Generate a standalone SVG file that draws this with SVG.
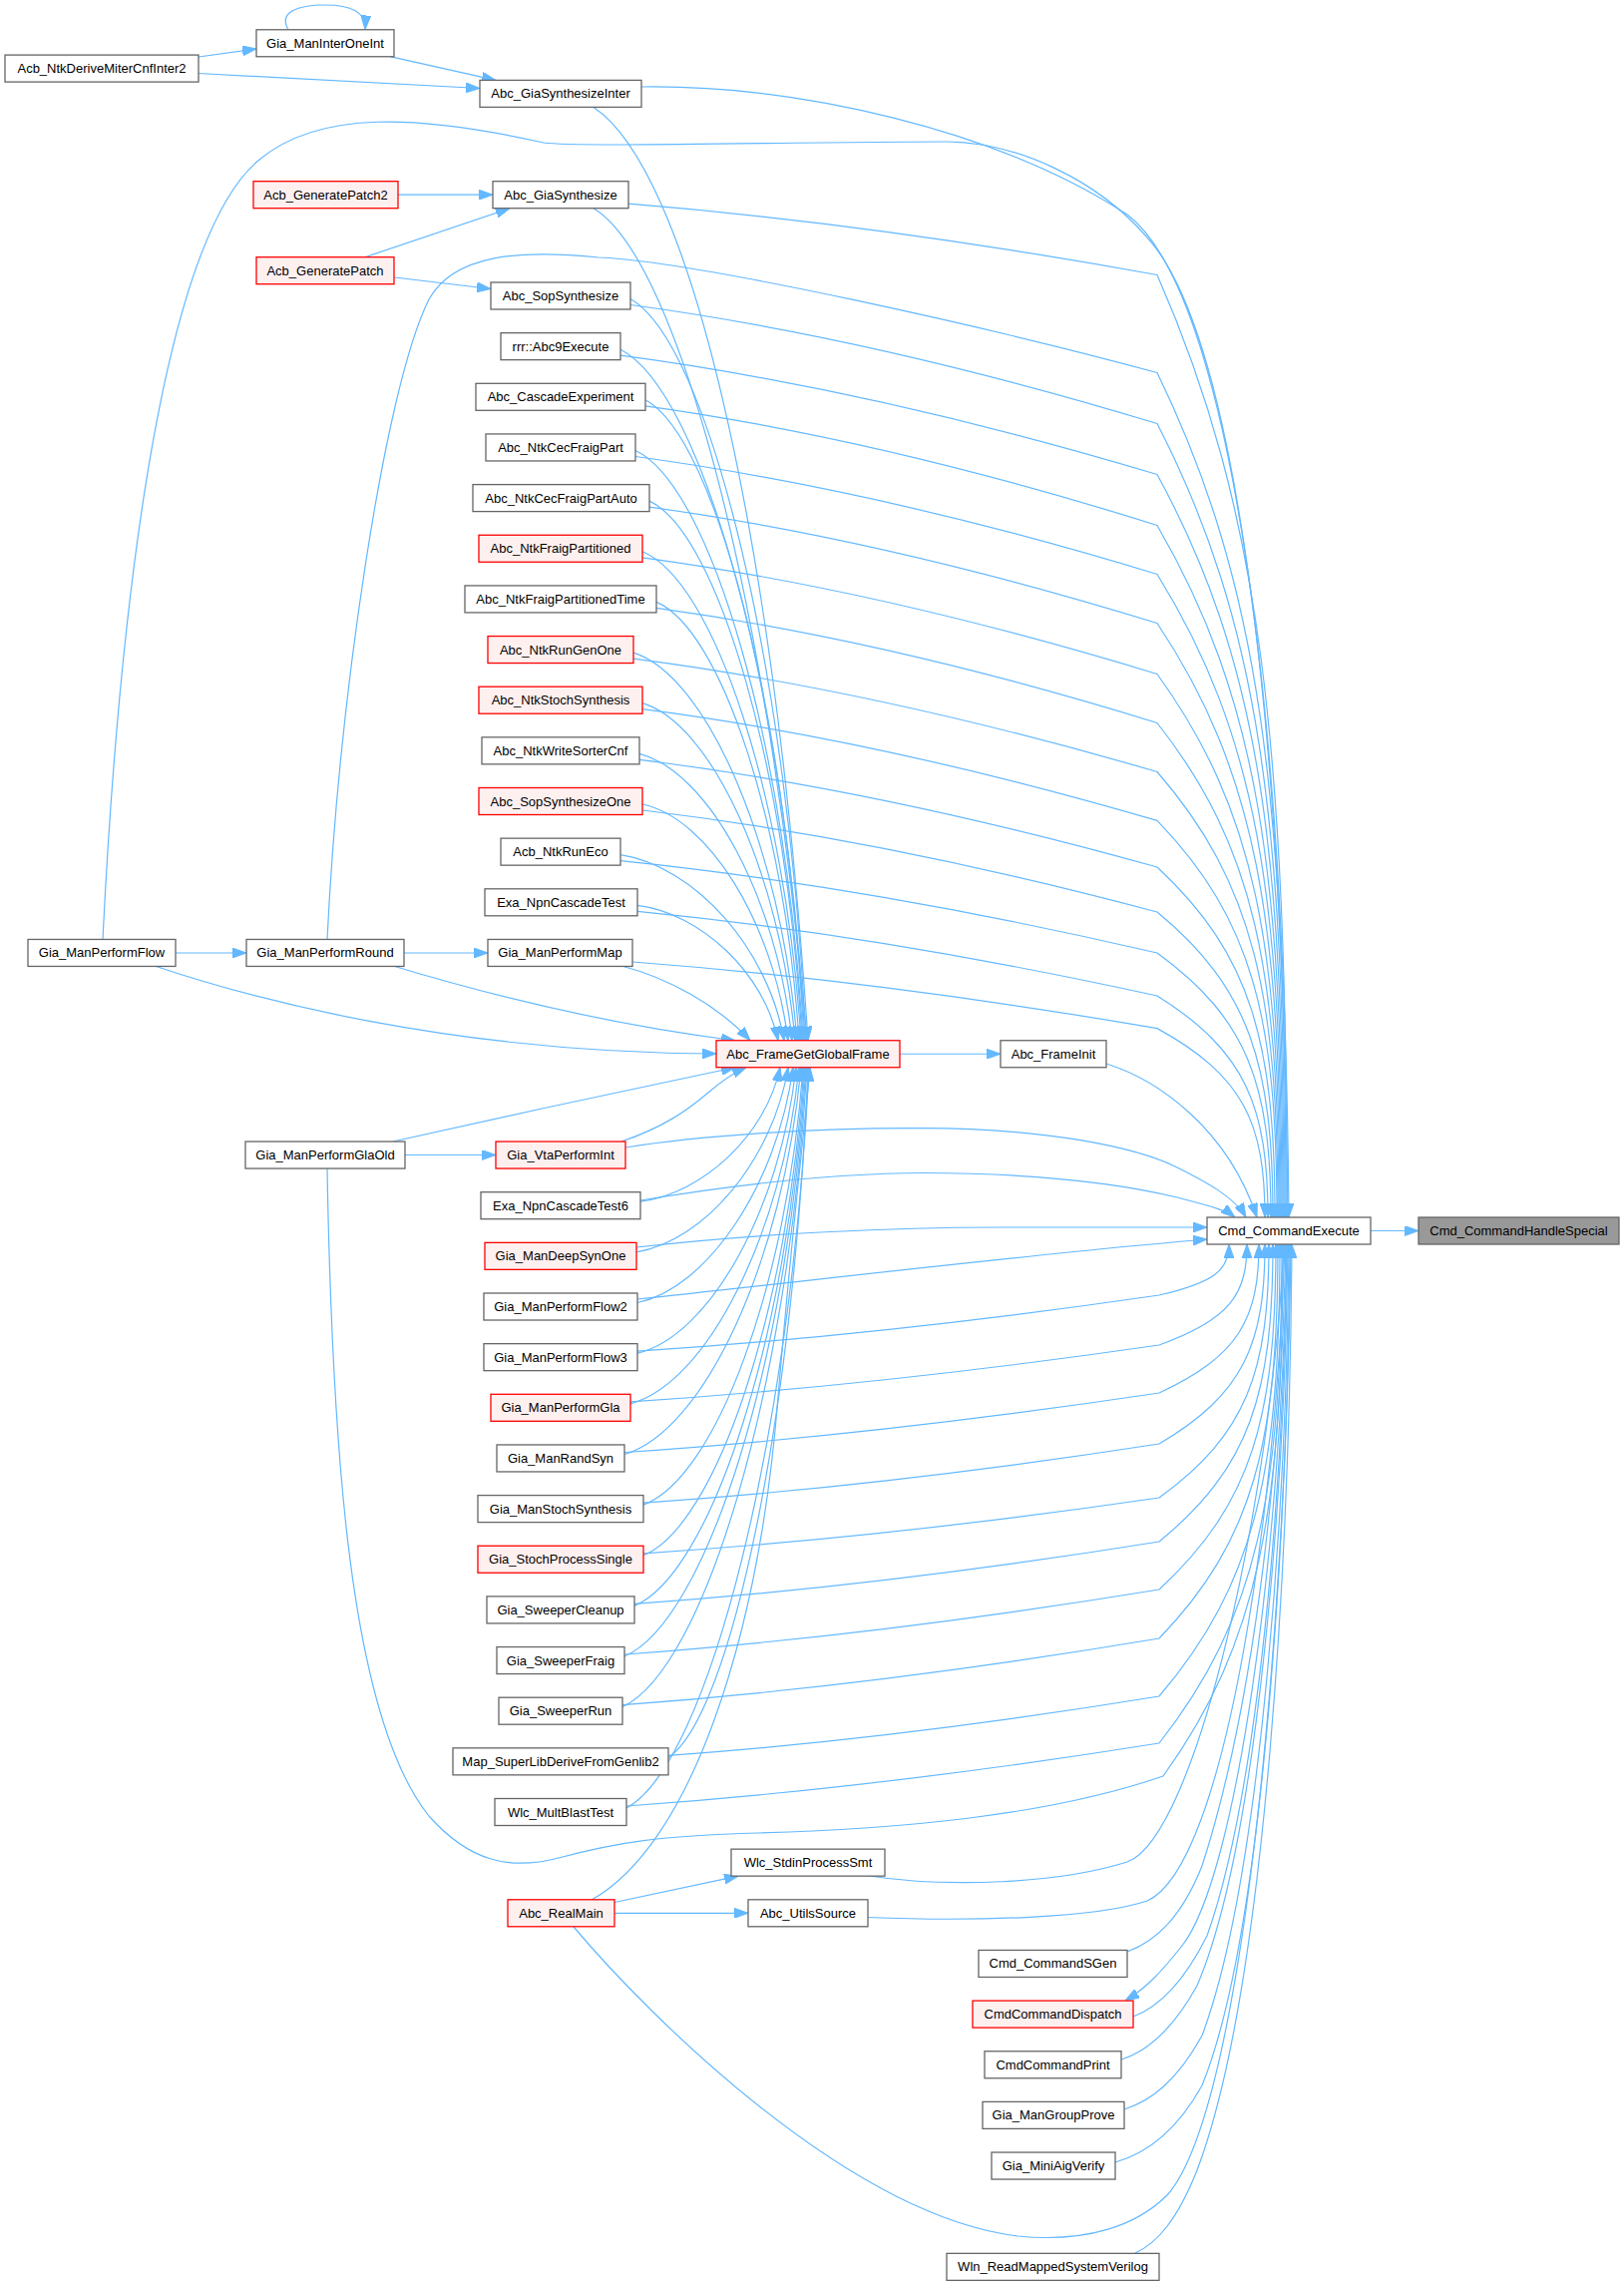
<svg xmlns="http://www.w3.org/2000/svg" width="1628" height="2291" viewBox="0 0 1628 2291">
<style>
.n rect{fill:#ffffff;stroke:#666666;stroke-width:1.3}
.r rect{fill:#fff0f0;stroke:#ff0000;stroke-width:1.3}
.root rect{fill:#999999;stroke:#666666;stroke-width:1.3}
text{font-family:"Liberation Sans",Arial,Helvetica,sans-serif;font-size:13px;text-anchor:middle;fill:#000000}
#edges path{fill:none;stroke:#63b8ff;stroke-width:1.2;marker-end:url(#a)}
</style>
<defs>
<marker id="a" markerWidth="14" markerHeight="10" refX="14" refY="5" orient="auto" markerUnits="userSpaceOnUse" viewBox="0 0 14 10"><path d="M0,0L14,5L0,10z" fill="#63b8ff" stroke="#63b8ff" stroke-width="1"/></marker>
</defs>
<rect width="1628" height="2291" fill="#ffffff"/>
<g id="edges">
<path d="M1374,1233.5L1422,1233.5"/>
<path d="M902,1056.25L1003,1056.25"/>
<path d="M199,57L257,49"/>
<path d="M199,73.5C300,79 400,85 481,88.5"/>
<path d="M391,56.7L497,80.4"/>
<path d="M289,29.75C279,12 298,5 326,5C352,5 367,12 366,29.5"/>
<path d="M399,195.2L494,195.2"/>
<path d="M366,257.7L511,208.7"/>
<path d="M395.5,278L492,289.5"/>
<path d="M176,955L247,955"/>
<path d="M405,955L489,955"/>
<path d="M406,1157.5L497,1157.5"/>
<path d="M616,1906.5L740,1880.2"/>
<path d="M616,1917.3L750,1917.3"/>
<!-- to GlobalFrame (top) -->
<path d="M595,107.4C690,170 775,520 810,1042.75"/>
<path d="M595,208.7C680,260 770,600 809,1042.75"/>
<path d="M632,299.5C711,344 790,671 808,1042.75"/>
<path d="M622,350.2C705,392 788,696 807,1042.75"/>
<path d="M647,400.8C719,439 790,722 806,1042.75"/>
<path d="M637,451.5C713,487 788,747 805,1042.75"/>
<path d="M651,502.1C720,534 789,772 804,1042.75"/>
<path d="M644,552.8C716,582 787,798 803,1042.75"/>
<path d="M658,603.4C722,630 787,823 801,1042.75"/>
<path d="M635,654.1C709,677 783,848 799,1042.75"/>
<path d="M644,704.7C713,725 782,874 797,1042.75"/>
<path d="M641,755.4C710,773 779,899 794,1042.75"/>
<path d="M644,806C710,820 775,924 790,1042.75"/>
<path d="M622,856.7C696,868 770,950 786,1042.75"/>
<path d="M639,907.3C702,915 766,975 780,1042.75"/>
<path d="M623,968C670,980 720,1008 752,1042.75"/>
<path d="M394,968C500,1000 620,1028 737,1042.75"/>
<path d="M155,968C250,1000 450,1055 718,1056"/>
<!-- to GlobalFrame (bottom) -->
<path d="M394,1144C500,1120 640,1090 737,1069.75"/>
<path d="M623,1144C665,1130 690,1112 710,1095C725,1082 738,1074 748,1069.75"/>
<path d="M642,1204.2C705,1196 768,1137 782,1069.75"/>
<path d="M638,1254.9C706,1244 775,1162 790,1069.75"/>
<path d="M639,1305.5C709,1291 779,1188 795,1069.75"/>
<path d="M639,1356.2C711,1339 782,1213 798,1069.75"/>
<path d="M632,1406.8C708,1387 784,1238 801,1069.75"/>
<path d="M626,1457.5C706,1434 785,1264 803,1069.75"/>
<path d="M645,1508.1C717,1482 789,1289 805,1069.75"/>
<path d="M645,1558.8C718,1529 790,1314 806,1069.75"/>
<path d="M636,1609.4C713,1577 790,1340 807,1069.75"/>
<path d="M626,1660C708,1625 790,1365 808,1069.75"/>
<path d="M624,1710.7C707,1672 790,1390 809,1069.75"/>
<path d="M670,1761.4C733,1720 796,1416 810,1069.75"/>
<path d="M628,1812C710,1768 793,1441 811,1069.75"/>
<path d="M593,1904C690,1850 760,1650 780,1400C795,1220 808,1120 812,1069.75"/>
<!-- to Cmd_CommandExecute (top) -->
<path d="M643,87C800,85 1000,130 1130,215C1232,292 1288,700 1292,1220"/>
<path d="M103,941.45C115,700 150,250 260,160C320,110 420,115 545,143C580,148 800,142 950,142C1020,143 1100,180 1150,238C1235,330 1286,700 1291,1220"/>
<path d="M630,204.2C807,218.5 983,243.4 1160,275.5C1264,511.6 1290,747.8 1290,1220"/>
<path d="M328,941.45C340,700 385,390 430,300C455,255 520,250 600,258C700,262 1000,330 1160,373.5C1263,585 1289,797 1289,1220"/>
<path d="M632,305.5C808,329.3 984,371 1160,424.5C1262.4,623.4 1288,822.3 1288,1220"/>
<path d="M622,356.2C801,380.1 981,421.8 1160,475.5C1261.6,661.6 1287,847.8 1287,1220"/>
<path d="M647,406.8C818,430.7 989,472.6 1160,526.5C1260.8,699.9 1286,873.3 1286,1220"/>
<path d="M637,457.5C811,481.1 986,522.4 1160,575.5C1260,736.6 1285,897.8 1285,1220"/>
<path d="M651,508.1C821,531.4 990,572.1 1160,624.5C1259.2,773.4 1284,922.3 1284,1220"/>
<path d="M644,558.8C816,582.1 988,623 1160,675.5C1258.4,811.6 1283,947.8 1283,1220"/>
<path d="M658,609.4C825,632.4 993,672.7 1160,724.5C1257.6,848.4 1282,972.3 1282,1220"/>
<path d="M635,660.1C810,682.8 985,722.5 1160,773.5C1256.8,885.1 1281,996.8 1281,1220"/>
<path d="M644,710.7C816,733 988,772.1 1160,822.4C1256,921.8 1280,1021.2 1280,1220"/>
<path d="M641,761.4C814,782.9 987,820.6 1160,869C1254.4,956.8 1278,1044.5 1278,1220"/>
<path d="M644,812C816,832.4 988,868.1 1160,914C1252.8,990.5 1276,1067 1276,1220"/>
<path d="M622,862.7C801,881.2 981,913.5 1160,955C1251.2,1021.3 1274,1087.5 1274,1220"/>
<path d="M639,913.3C813,930.2 986,959.9 1160,998C1248.8,1053.5 1271,1109 1271,1220"/>
<path d="M634,964C809,977.3 985,1000.6 1160,1030.6C1246.4,1078 1268,1125.3 1268,1220"/>
<path d="M1109,1066C1160,1082 1230,1130 1260,1220"/>
<path d="M627,1150C700,1138 820,1130 926,1130.6C1050,1131 1140,1150 1180,1170C1210,1185 1238,1200 1249,1220"/>
<path d="M642,1203C720,1190 820,1176 926,1175.5C1050,1176 1130,1188 1180,1200C1210,1208 1228,1212 1238,1220"/>
<!-- to Cmd_CommandExecute (left / bottom) -->
<path d="M638,1250C760,1236 900,1230 1000,1230C1100,1230 1170,1230 1210,1230"/>
<path d="M639,1302C800,1285 1050,1255 1210,1242"/>
<path d="M639,1354.2C813,1342.9 988,1323.3 1162,1298C1218,1285 1232,1272.5 1232,1247"/>
<path d="M632,1404.8C809,1393.4 985,1373.6 1162,1348C1232.4,1322.75 1250,1297.5 1250,1247"/>
<path d="M626,1455.5C805,1443.6 983,1422.7 1162,1396C1242,1358.75 1262,1321.5 1262,1247"/>
<path d="M645,1506.1C817,1494.3 990,1473.6 1162,1447C1246.8,1397 1268,1347 1268,1247"/>
<path d="M645,1556.8C817,1545.6 990,1526.1 1162,1501C1250,1437.5 1272,1374 1272,1247"/>
<path d="M636,1607.4C811,1594.9 987,1573.1 1162,1545C1253.2,1470.5 1276,1396 1276,1247"/>
<path d="M626,1658C805,1645 983,1622.3 1162,1593C1255.6,1506.5 1279,1420 1279,1247"/>
<path d="M624,1708.7C803,1695.4 983,1672 1162,1642C1257.2,1543.25 1281,1444.5 1281,1247"/>
<path d="M670,1759.4C834,1747.5 998,1726.7 1162,1700C1258.8,1586.75 1283,1473.5 1283,1247"/>
<path d="M628,1810C806,1797.4 984,1775.4 1162,1747C1260.4,1622 1285,1497 1285,1247"/>
<path d="M328,1171C333,1450 350,1720 430,1820C470,1865 510,1875 560,1862C620,1846 660,1840 760,1837C900,1833 1050,1820 1166,1780C1262,1646.75 1286,1513.5 1286,1247"/>
<path d="M871,1880C950,1892 1060,1888 1130,1866C1200,1840 1275,1500 1287,1247"/>
<path d="M869,1921.5C980,1926 1100,1922 1150,1905C1230,1870 1280,1500 1288,1247"/>
<path d="M1130,1956C1160,1945 1185,1920 1205,1870C1260,1700 1285,1450 1289,1247"/>
<path d="M1136,2021C1160,2012 1185,1990 1210,1940C1260,1800 1287,1500 1290,1247"/>
<path d="M1124,2064C1150,2056 1175,2035 1200,1990C1260,1850 1288,1500 1291,1247"/>
<path d="M1127,2114C1155,2105 1180,2085 1205,2040C1265,1880 1290,1500 1292,1247"/>
<path d="M1118,2167C1150,2158 1180,2135 1205,2090C1270,1930 1291,1500 1293,1247"/>
<path d="M575,1931C650,2020 850,2220 1020,2241C1090,2248 1140,2230 1170,2200C1250,2110 1290,1600 1294,1247"/>
<path d="M1138,2258C1160,2248 1180,2225 1200,2175C1270,1990 1293,1550 1295,1247"/>
<path d="M1290,1247C1285,1550 1240,1880 1185,1950C1165,1975 1150,1992 1128,2005"/>
</g>
<g id="n1" class="root"><rect x="1422" y="1220" width="201" height="27"/><text x="1522.5" y="1238">Cmd_CommandHandleSpecial</text></g>
<g id="n2" class="n"><rect x="1210" y="1220" width="164" height="27"/><text x="1292" y="1238">Cmd_CommandExecute</text></g>
<g id="n3" class="r"><rect x="718" y="1042.75" width="184" height="27"/><text x="810" y="1060.75">Abc_FrameGetGlobalFrame</text></g>
<g id="n4" class="n"><rect x="1003" y="1042.75" width="106" height="27"/><text x="1056" y="1060.75">Abc_FrameInit</text></g>
<g id="n5" class="n"><rect x="481" y="80.4" width="162" height="27"/><text x="562" y="98.4">Abc_GiaSynthesizeInter</text></g>
<g id="n6" class="n"><rect x="257" y="29.75" width="138" height="27"/><text x="326" y="47.75">Gia_ManInterOneInt</text></g>
<g id="n7" class="n"><rect x="5" y="55.1" width="194" height="27"/><text x="102" y="73.1">Acb_NtkDeriveMiterCnfInter2</text></g>
<g id="n8" class="n"><rect x="494" y="181.7" width="136" height="27"/><text x="562" y="199.7">Abc_GiaSynthesize</text></g>
<g id="n9" class="r"><rect x="254" y="181.7" width="145" height="27"/><text x="326.5" y="199.7">Acb_GeneratePatch2</text></g>
<g id="n10" class="r"><rect x="257" y="257.7" width="138" height="27"/><text x="326" y="275.7">Acb_GeneratePatch</text></g>
<g id="n11" class="n"><rect x="492" y="283" width="140" height="27"/><text x="562" y="301">Abc_SopSynthesize</text></g>
<g id="n12" class="n"><rect x="502" y="333.65" width="120" height="27"/><text x="562" y="351.65">rrr::Abc9Execute</text></g>
<g id="n13" class="n"><rect x="477" y="384.3" width="170" height="27"/><text x="562" y="402.3">Abc_CascadeExperiment</text></g>
<g id="n14" class="n"><rect x="487" y="434.95" width="150" height="27"/><text x="562" y="452.95">Abc_NtkCecFraigPart</text></g>
<g id="n15" class="n"><rect x="474" y="485.6" width="177" height="27"/><text x="562.5" y="503.6">Abc_NtkCecFraigPartAuto</text></g>
<g id="n16" class="r"><rect x="480" y="536.25" width="164" height="27"/><text x="562" y="554.25">Abc_NtkFraigPartitioned</text></g>
<g id="n17" class="n"><rect x="466" y="586.9" width="192" height="27"/><text x="562" y="604.9">Abc_NtkFraigPartitionedTime</text></g>
<g id="n18" class="r"><rect x="489" y="637.55" width="146" height="27"/><text x="562" y="655.55">Abc_NtkRunGenOne</text></g>
<g id="n19" class="r"><rect x="480" y="688.2" width="164" height="27"/><text x="562" y="706.2">Abc_NtkStochSynthesis</text></g>
<g id="n20" class="n"><rect x="483" y="738.85" width="158" height="27"/><text x="562" y="756.85">Abc_NtkWriteSorterCnf</text></g>
<g id="n21" class="r"><rect x="480" y="789.5" width="164" height="27"/><text x="562" y="807.5">Abc_SopSynthesizeOne</text></g>
<g id="n22" class="n"><rect x="502" y="840.15" width="120" height="27"/><text x="562" y="858.15">Acb_NtkRunEco</text></g>
<g id="n23" class="n"><rect x="486" y="890.8" width="153" height="27"/><text x="562.5" y="908.8">Exa_NpnCascadeTest</text></g>
<g id="n24" class="n"><rect x="489" y="941.45" width="145" height="27"/><text x="561.5" y="959.45">Gia_ManPerformMap</text></g>
<g id="n25" class="n"><rect x="247" y="941.45" width="158" height="27"/><text x="326" y="959.45">Gia_ManPerformRound</text></g>
<g id="n26" class="n"><rect x="28" y="941.45" width="148" height="27"/><text x="102" y="959.45">Gia_ManPerformFlow</text></g>
<g id="n27" class="n"><rect x="246" y="1144.05" width="160" height="27"/><text x="326" y="1162.05">Gia_ManPerformGlaOld</text></g>
<g id="n28" class="r"><rect x="497" y="1144.05" width="130" height="27"/><text x="562" y="1162.05">Gia_VtaPerformInt</text></g>
<g id="n29" class="n"><rect x="482" y="1194.7" width="160" height="27"/><text x="562" y="1212.7">Exa_NpnCascadeTest6</text></g>
<g id="n30" class="r"><rect x="486" y="1245.35" width="152" height="27"/><text x="562" y="1263.35">Gia_ManDeepSynOne</text></g>
<g id="n31" class="n"><rect x="485" y="1296" width="154" height="27"/><text x="562" y="1314">Gia_ManPerformFlow2</text></g>
<g id="n32" class="n"><rect x="485" y="1346.65" width="154" height="27"/><text x="562" y="1364.65">Gia_ManPerformFlow3</text></g>
<g id="n33" class="r"><rect x="492" y="1397.3" width="140" height="27"/><text x="562" y="1415.3">Gia_ManPerformGla</text></g>
<g id="n34" class="n"><rect x="498" y="1447.95" width="128" height="27"/><text x="562" y="1465.95">Gia_ManRandSyn</text></g>
<g id="n35" class="n"><rect x="479" y="1498.6" width="166" height="27"/><text x="562" y="1516.6">Gia_ManStochSynthesis</text></g>
<g id="n36" class="r"><rect x="479" y="1549.25" width="166" height="27"/><text x="562" y="1567.25">Gia_StochProcessSingle</text></g>
<g id="n37" class="n"><rect x="488" y="1599.9" width="148" height="27"/><text x="562" y="1617.9">Gia_SweeperCleanup</text></g>
<g id="n38" class="n"><rect x="498" y="1650.55" width="128" height="27"/><text x="562" y="1668.55">Gia_SweeperFraig</text></g>
<g id="n39" class="n"><rect x="500" y="1701.2" width="124" height="27"/><text x="562" y="1719.2">Gia_SweeperRun</text></g>
<g id="n40" class="n"><rect x="454" y="1751.85" width="216" height="27"/><text x="562" y="1769.85">Map_SuperLibDeriveFromGenlib2</text></g>
<g id="n41" class="n"><rect x="496" y="1802.5" width="132" height="27"/><text x="562" y="1820.5">Wlc_MultBlastTest</text></g>
<g id="n42" class="n"><rect x="733" y="1853.15" width="154" height="27"/><text x="810" y="1871.15">Wlc_StdinProcessSmt</text></g>
<g id="n43" class="r"><rect x="509" y="1903.8" width="107" height="27"/><text x="562.5" y="1921.8">Abc_RealMain</text></g>
<g id="n44" class="n"><rect x="750" y="1903.8" width="120" height="27"/><text x="810" y="1921.8">Abc_UtilsSource</text></g>
<g id="n45" class="n"><rect x="981" y="1954.45" width="149" height="27"/><text x="1055.5" y="1972.45">Cmd_CommandSGen</text></g>
<g id="n46" class="r"><rect x="975" y="2005.1" width="161" height="27"/><text x="1055.5" y="2023.1">CmdCommandDispatch</text></g>
<g id="n47" class="n"><rect x="987" y="2055.75" width="137" height="27"/><text x="1055.5" y="2073.75">CmdCommandPrint</text></g>
<g id="n48" class="n"><rect x="985" y="2106.4" width="142" height="27"/><text x="1056" y="2124.4">Gia_ManGroupProve</text></g>
<g id="n49" class="n"><rect x="994" y="2157.05" width="124" height="27"/><text x="1056" y="2175.05">Gia_MiniAigVerify</text></g>
<g id="n50" class="n"><rect x="949" y="2258.35" width="213" height="27"/><text x="1055.5" y="2276.35">Wln_ReadMappedSystemVerilog</text></g>
</svg>
